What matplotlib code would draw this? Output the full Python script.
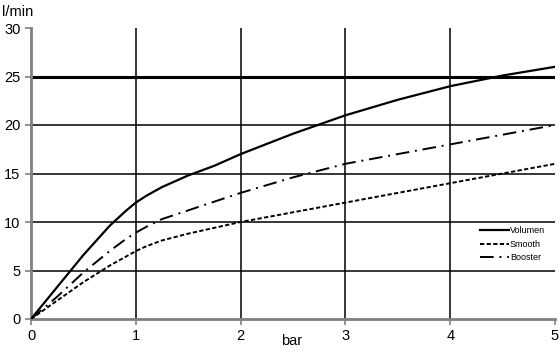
import matplotlib.pyplot as plt

plt.rcParams['font.family'] = ['Liberation Sans', 'DejaVu Sans']

pressure = [0, 0.25, 0.5, 0.75, 0.9, 1, 1.1, 1.25, 1.5, 1.75, 2, 2.5, 3, 3.5, 4, 4.5, 5]
volumen = [0, 3.3, 6.6, 9.6, 11.1, 12, 12.7, 13.6, 14.8, 15.8, 17, 19.1, 21, 22.6, 24, 25.1, 26]
smooth = [0, 1.9, 3.8, 5.5, 6.4, 7, 7.5, 8.1, 8.8, 9.4, 10, 11, 12, 13, 14, 15, 16]
booster = [0, 2.3, 4.8, 7, 8.2, 8.9, 9.5, 10.3, 11.2, 12.1, 13, 14.6, 16, 17, 18, 19, 20]

fig = plt.figure(figsize=(5.6, 3.52), dpi=100)
ax = fig.add_axes([31/560, 33/352, 524/560, 291/352])

# grid
for v in [5, 10, 15, 20]:
    ax.axhline(v, color='black', lw=1.1, zorder=1)
ax.axhline(25, color='black', lw=2.2, zorder=1)
for v in [1, 2, 3, 4]:
    ax.axvline(v, color='black', lw=1.1, zorder=1)

ax.plot(pressure, volumen, color='black', lw=1.6, label='Volumen', zorder=3)
ax.plot(pressure, smooth, color='black', lw=1.4, dashes=(2.2, 1.2), label='Smooth', zorder=3)
ax.plot(pressure, booster, color='black', lw=1.4, dashes=(7, 3, 1, 3), label='Booster', zorder=3)

ax.set_xlim(0, 5)
ax.set_ylim(0, 30)
ax.set_xticks([0, 1, 2, 3, 4, 5])
ax.set_yticks([0, 5, 10, 15, 20, 25, 30])
ax.tick_params(labelsize=10.5, color='#808080', length=4, width=1.2)
for s in ['top', 'right']:
    ax.spines[s].set_visible(False)
for s in ['left', 'bottom']:
    ax.spines[s].set_color('#808080')
    ax.spines[s].set_linewidth(2)

fig.text(2/560, 1 - 12/352, 'l/min', fontsize=10.5, va='center', ha='left')
fig.text(292/560, 1 - 341/352, 'bar', fontsize=10.5, va='center', ha='center')

leg = ax.legend(loc='lower right', bbox_to_anchor=(0.995, 0.17), fontsize=6.5,
                frameon=True, framealpha=1, edgecolor='none', fancybox=False,
                handlelength=3.2, handletextpad=0.1, borderpad=0.3, labelspacing=0.5)
leg.get_frame().set_linewidth(0)

fig.savefig('out.png', dpi=100)
